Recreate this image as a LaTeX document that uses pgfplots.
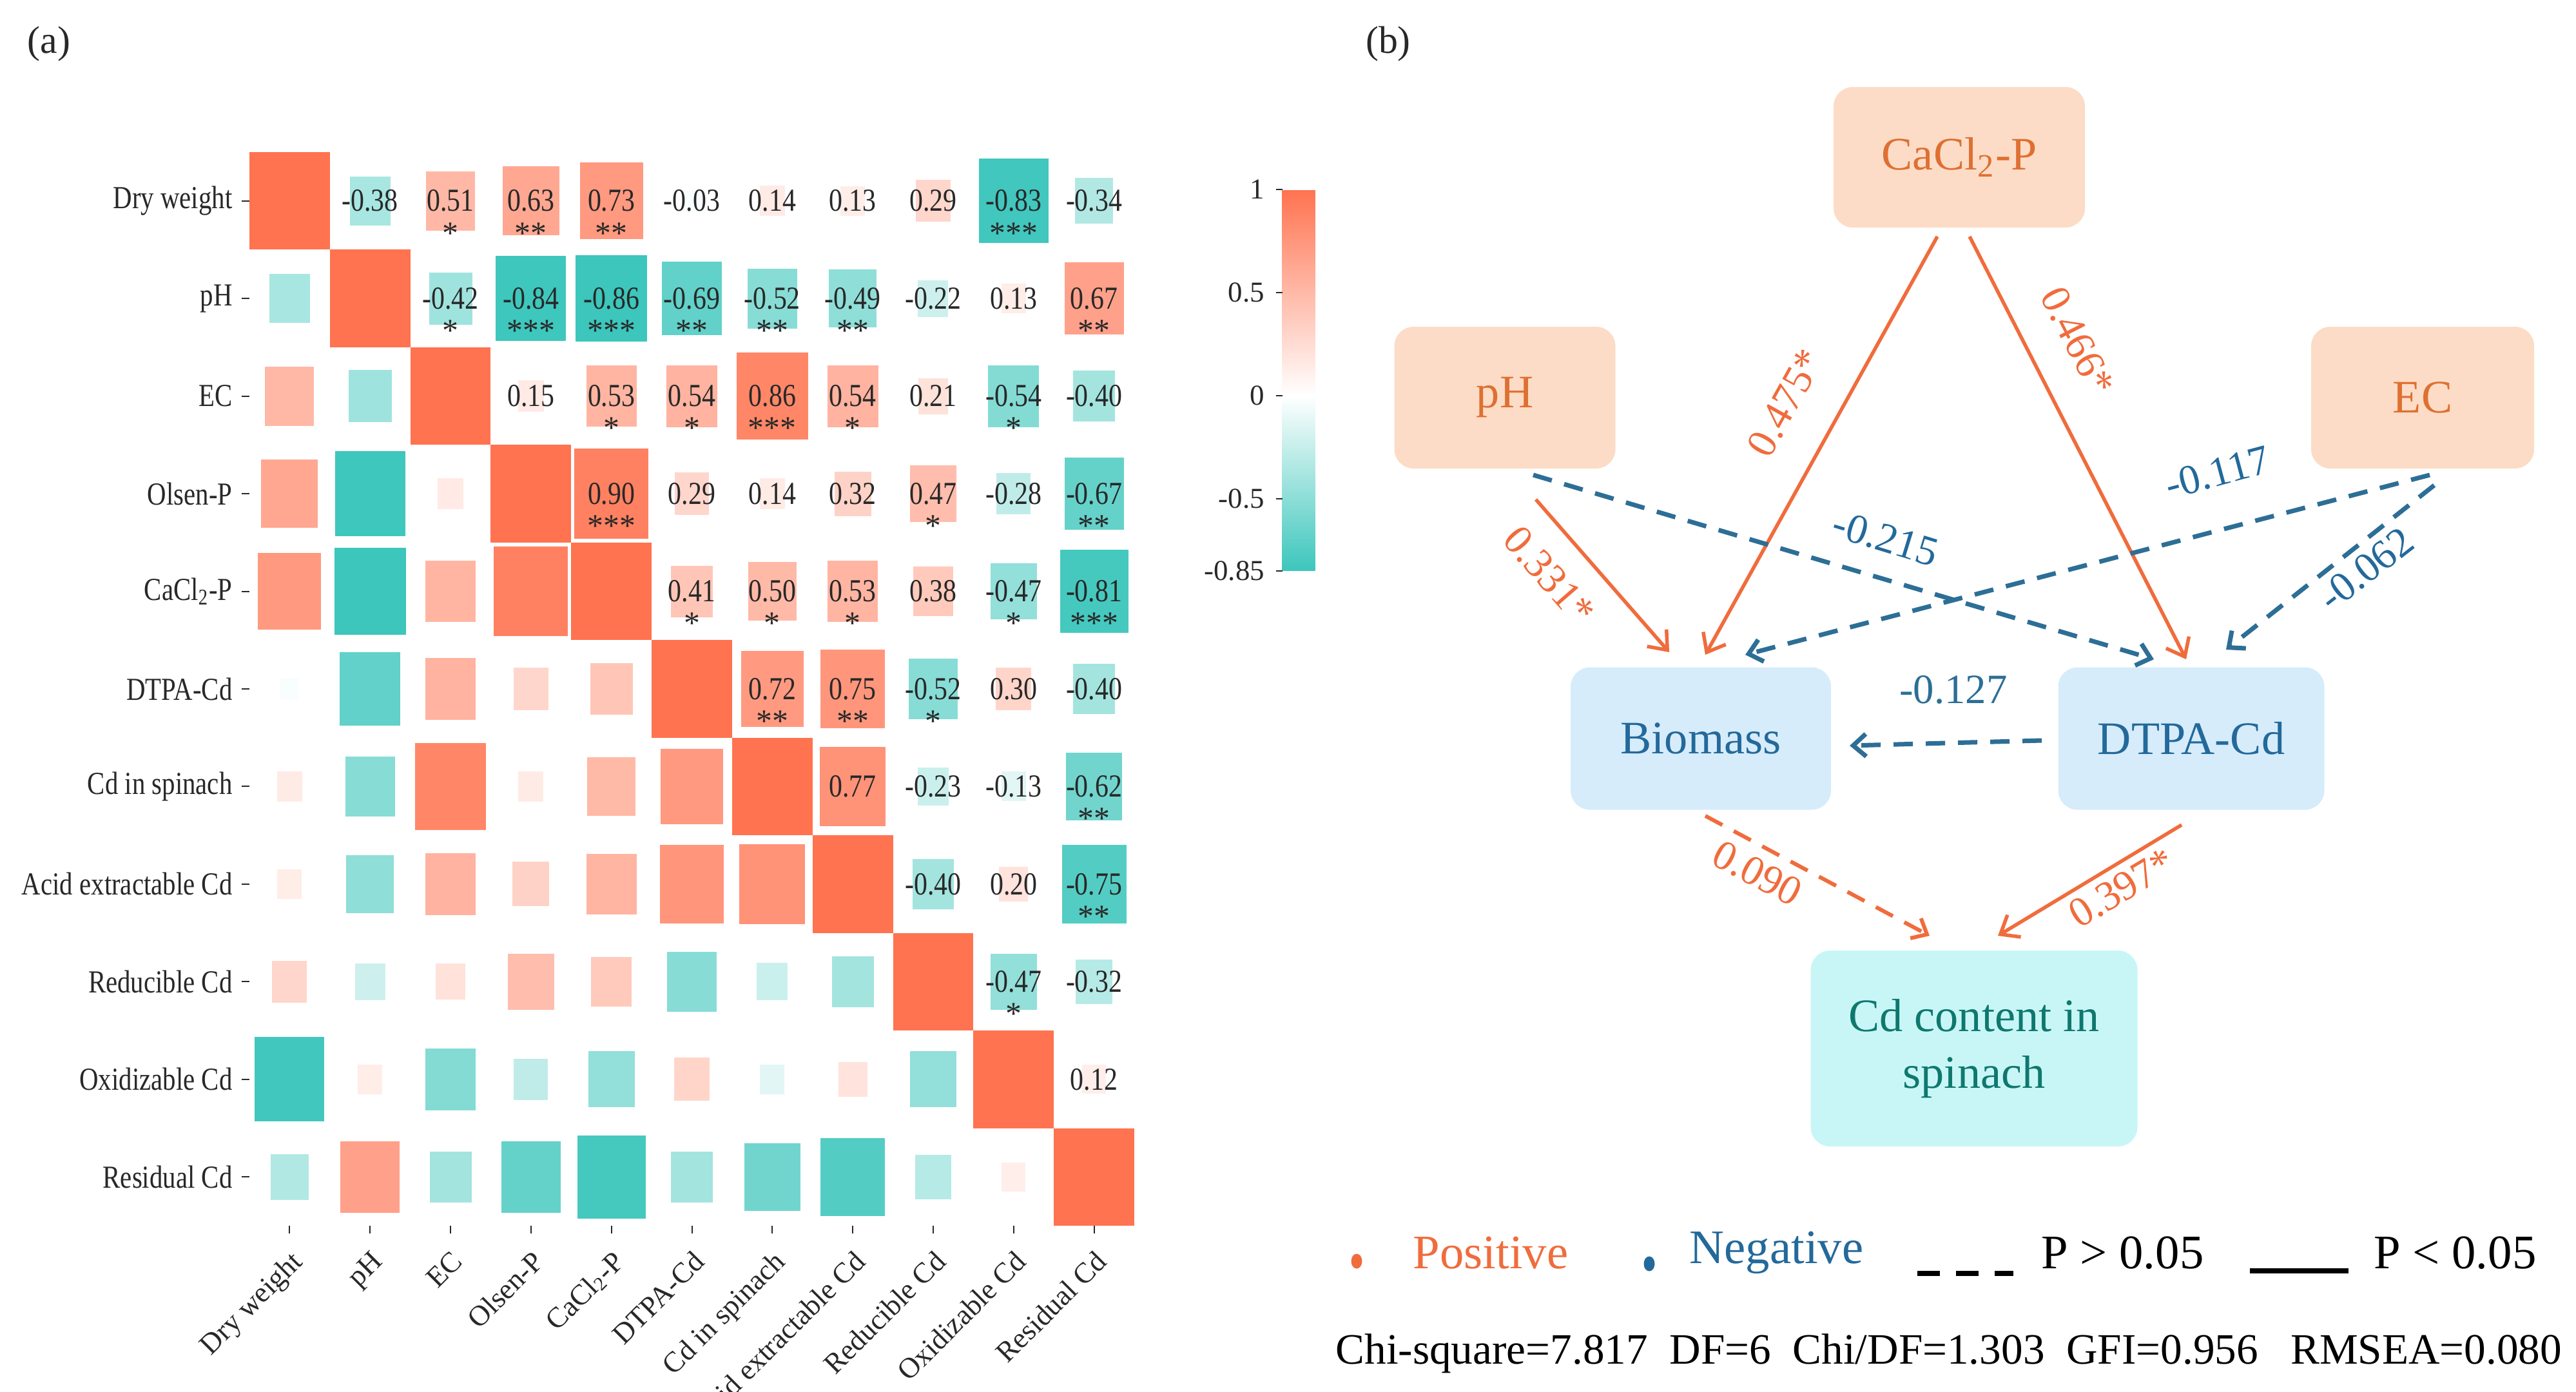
\documentclass[border=0pt]{standalone}
\usepackage{pgfplots}
\pgfplotsset{compat=1.18}
\usepackage{pgfplotstable}
\usepackage{fontspec}
\setmainfont{Liberation Serif}
\usetikzlibrary{arrows.meta}

\definecolor{txt}{RGB}{40,40,40}
\definecolor{posline}{RGB}{240,108,60}
\definecolor{negline}{RGB}{45,110,150}
\definecolor{peach}{RGB}{252,220,198}
\definecolor{lblue}{RGB}{214,236,250}
\definecolor{lcyan}{RGB}{200,246,246}
\definecolor{ptext}{RGB}{222,112,50}
\definecolor{btext}{RGB}{35,105,155}
\definecolor{ctext}{RGB}{15,120,110}

\pgfdeclareplotmark{cell}{%
  \pgfpathrectangle{\pgfpoint{-12.53*\pgfplotmarksize}{-15.21*\pgfplotmarksize}}%
                   {\pgfpoint{25.06*\pgfplotmarksize}{30.42*\pgfplotmarksize}}%
  \pgfusepathqfill}

\pgfplotsset{colormap={corr}{rgb255(0pt)=(60,198,188); rgb255(85pt)=(255,255,255); rgb255(185pt)=(255,115,80)}}

% upper triangle: row i, column j, correlation r
\pgfplotstableread{
i j r
0 1 -0.38
0 2 0.51
0 3 0.63
0 4 0.73
0 5 -0.03
0 6 0.14
0 7 0.13
0 8 0.29
0 9 -0.83
0 10 -0.34
1 2 -0.42
1 3 -0.84
1 4 -0.86
1 5 -0.69
1 6 -0.52
1 7 -0.49
1 8 -0.22
1 9 0.13
1 10 0.67
2 3 0.15
2 4 0.53
2 5 0.54
2 6 0.86
2 7 0.54
2 8 0.21
2 9 -0.54
2 10 -0.40
3 4 0.90
3 5 0.29
3 6 0.14
3 7 0.32
3 8 0.47
3 9 -0.28
3 10 -0.67
4 5 0.41
4 6 0.50
4 7 0.53
4 8 0.38
4 9 -0.47
4 10 -0.81
5 6 0.72
5 7 0.75
5 8 -0.52
5 9 0.30
5 10 -0.40
6 7 0.77
6 8 -0.23
6 9 -0.13
6 10 -0.62
7 8 -0.40
7 9 0.20
7 10 -0.75
8 9 -0.47
8 10 -0.32
9 10 0.12
}\upper

\pgfplotstableread{
i j s
0 2 *
0 3 **
0 4 **
0 9 ***
1 2 *
1 3 ***
1 4 ***
1 5 **
1 6 **
1 7 **
1 10 **
2 4 *
2 5 *
2 6 ***
2 7 *
2 9 *
3 4 ***
3 8 *
3 10 **
4 5 *
4 6 *
4 7 *
4 9 *
4 10 ***
5 6 **
5 7 **
5 8 *
6 10 **
7 10 **
8 9 *
}\stars

\pgfplotstableread{
i r
0 1
1 1
2 1
3 1
4 1
5 1
6 1
7 1
8 1
9 1
10 1
}\diag

\begin{document}
\begin{tikzpicture}
\path[use as bounding box] (0,0) rectangle (799.4bp,432bp);

% ---------------- (a) correlation heatmap ----------------
\begin{axis}[
  at={(77.4bp,384.8bp)}, anchor=north west,
  width=274.6bp, height=333.2bp, scale only axis,
  xmin=-0.5, xmax=10.5, ymin=-0.5, ymax=10.5, y dir=reverse,
  axis line style={draw=none},
  tick pos=left, tick align=outside, major tick length=2.4bp,
  tick style={color=txt, line width=0.4bp},
  xtick={0,...,10}, ytick={0,...,10},
  xticklabels={Dry weight, pH, EC, Olsen-P, CaCl\textsubscript{2}-P, DTPA-Cd, Cd in spinach, Acid extractable Cd, Reducible Cd, Oxidizable Cd, Residual Cd},
  yticklabels={Dry weight, pH, EC, Olsen-P, CaCl\textsubscript{2}-P, DTPA-Cd, Cd in spinach, Acid extractable Cd, Reducible Cd, Oxidizable Cd, Residual Cd},
  yticklabel style={font=\fontsize{10}{12}\selectfont, text=txt, xscale=0.82},
  xticklabel style={font=\fontsize{9}{11}\selectfont, text=txt, rotate=45, anchor=north east},
  clip=false,
  colormap name=corr, point meta min=-0.85, point meta max=1,
  colorbar,
  colorbar style={
    at={(parent axis.north east)}, anchor=north west,
    xshift=37.4bp, yshift=-11.6bp,
    width=10.2bp, height=118.4bp,
    ytick={-0.85,-0.5,0,0.5,1}, yticklabels={-0.85,-0.5,0,0.5,1},
    ytick pos=left, yticklabel pos=left,
    axis line style={draw=none}, tick align=outside, major tick length=2bp,
    tick style={color=txt, line width=0.4bp},
    yticklabel style={font=\fontsize{9}{10}\selectfont, text=txt},
  },
]
\addplot[scatter, only marks, mark=cell, point meta=\thisrow{r},
  visualization depends on={0.2+0.8*abs(\thisrow{r}) \as \sz},
  scatter/@pre marker code/.append style={/tikz/mark size=\sz}]
  table[x=j, y=i] {\upper};
\addplot[scatter, only marks, mark=cell, point meta=\thisrow{r},
  visualization depends on={0.2+0.8*abs(\thisrow{r}) \as \sz},
  scatter/@pre marker code/.append style={/tikz/mark size=\sz}]
  table[x=i, y=j] {\upper};
\addplot[scatter, only marks, mark=cell, mark size=1, point meta=\thisrow{r}]
  table[x=i, y=i] {\diag};
\addplot[draw=none, mark=none, nodes near coords, point meta=explicit symbolic,
  nodes near coords style={anchor=center, font=\fontsize{10}{12}\selectfont, text=txt, xscale=0.84}]
  table[x=j, y=i, meta=r] {\upper};
\addplot[draw=none, mark=none, nodes near coords, point meta=explicit symbolic,
  nodes near coords style={anchor=center, yshift=-10bp, font=\fontsize{10}{12}\selectfont, text=txt}]
  table[x=j, y=i, meta=s] {\stars};
\end{axis}

% ---------------- (b) path diagram (canvas in pixel units) ----------------
\begin{axis}[
  at={(0,0)}, anchor=south west,
  width=799.4bp, height=432bp, scale only axis,
  xmin=0, xmax=3997, ymin=0, ymax=2160, y dir=reverse,
  hide axis, clip=false,
]
\node[font=\fontsize{12}{14}\selectfont, text=txt] at (axis cs:76,68) {(a)};
\node[font=\fontsize{12}{14}\selectfont, text=txt] at (axis cs:2154,68) {(b)};

% boxes
\node[fill=peach, rounded corners=6bp, minimum width=78bp, minimum height=43.6bp, text=ptext, font=\fontsize{14.5}{16}\selectfont] at (axis cs:3040,244) {CaCl\textsubscript{2}-P};
\node[fill=peach, rounded corners=6bp, minimum width=68.6bp, minimum height=44bp, text=ptext, font=\fontsize{14.5}{16}\selectfont] at (axis cs:2335,617) {pH};
\node[fill=peach, rounded corners=6bp, minimum width=69.2bp, minimum height=44bp, text=ptext, font=\fontsize{14.5}{16}\selectfont] at (axis cs:3759,617) {EC};
\node[fill=lblue, rounded corners=6bp, minimum width=80.8bp, minimum height=44.2bp, text=btext, font=\fontsize{14.5}{16}\selectfont] at (axis cs:2639,1146) {Biomass};
\node[fill=lblue, rounded corners=6bp, minimum width=82.6bp, minimum height=44.2bp, text=btext, font=\fontsize{14.5}{16}\selectfont] at (axis cs:3400,1146) {DTPA-Cd};
\node[fill=lcyan, rounded corners=6bp, minimum width=101.4bp, minimum height=60.8bp, text=ctext, font=\fontsize{14.5}{17.6}\selectfont, align=center] at (axis cs:3063,1627) {Cd content in\\spinach};

% arrows: significant (solid) and not significant (dashed)
\addplot[posline, line width=1.1bp, -{Straight Barb[length=5bp,width=8bp]}] coordinates {(3006,367) (2646,1016)};
\addplot[posline, line width=1.1bp, -{Straight Barb[length=5bp,width=8bp]}] coordinates {(3056,367) (3392,1023)};
\addplot[posline, line width=1.1bp, -{Straight Barb[length=5bp,width=8bp]}] coordinates {(2383,775) (2590,1012)};
\addplot[negline, line width=1.4bp, dash pattern=on 6bp off 4bp, -{Straight Barb[length=4bp,width=7bp]}] coordinates {(2379,737) (3342,1023)};
\addplot[negline, line width=1.4bp, dash pattern=on 6bp off 4bp, -{Straight Barb[length=4bp,width=7bp]}] coordinates {(3770,737) (2708,1016)};
\addplot[negline, line width=1.4bp, dash pattern=on 6bp off 4bp, -{Straight Barb[length=4bp,width=7bp]}] coordinates {(3777,753) (3454,1008)};
\addplot[negline, line width=1.4bp, dash pattern=on 6bp off 4bp, -{Straight Barb[length=4bp,width=7bp]}] coordinates {(3168,1149) (2870,1157)};
\addplot[posline, line width=1.2bp, dash pattern=on 6bp off 4bp, -{Straight Barb[length=4bp,width=7bp]}] coordinates {(2646,1266) (2994,1452)};
\addplot[posline, line width=1.1bp, -{Straight Barb[length=5bp,width=8bp]}] coordinates {(3385,1280) (3100,1452)};

% path coefficients
\node[text=posline, rotate=61, font=\fontsize{13}{15}\selectfont] at (axis cs:2770,625) {0.475*};
\node[text=posline, rotate=-63, font=\fontsize{13}{15}\selectfont] at (axis cs:3224,529) {0.466*};
\node[text=posline, rotate=-49, font=\fontsize{13}{15}\selectfont] at (axis cs:2404,893) {0.331*};
\node[text=btext, rotate=-17, font=\fontsize{13}{15}\selectfont] at (axis cs:2926,835) {-0.215};
\node[text=btext, rotate=15, font=\fontsize{13}{15}\selectfont] at (axis cs:3441,733) {-0.117};
\node[text=btext, rotate=38, font=\fontsize{13}{15}\selectfont] at (axis cs:3671,883) {-0.062};
\node[text=negline, font=\fontsize{13}{15}\selectfont] at (axis cs:3031,1070) {-0.127};
\node[text=posline, rotate=-28, font=\fontsize{13}{15}\selectfont] at (axis cs:2727,1355) {0.090};
\node[text=posline, rotate=31, font=\fontsize{13}{15}\selectfont] at (axis cs:3292,1378) {0.397*};

% legend
\addplot[only marks, mark=*, mark size=1.5, mark options={yscale=1.4}, color=posline] coordinates {(2105,1957)};
\addplot[only marks, mark=*, mark size=1.5, mark options={yscale=1.4}, color=btext] coordinates {(2559,1961)};
\node[anchor=west, text=posline, font=\fontsize{15}{17}\selectfont] at (axis cs:2175,1944) {Positive};
\node[anchor=west, text=btext, font=\fontsize{15}{17}\selectfont] at (axis cs:2604,1944) {Negative};
\addplot[black, line width=1.6bp, dash pattern=on 7bp off 5bp] coordinates {(2975,1976) (3124,1976)};
\node[anchor=west, text=black, font=\fontsize{15}{17}\selectfont] at (axis cs:3150,1944) {P > 0.05};
\addplot[black, line width=1.6bp] coordinates {(3491,1972) (3644,1972)};
\node[anchor=west, text=black, font=\fontsize{15}{17}\selectfont] at (axis cs:3666,1944) {P < 0.05};
\node[anchor=west, text=black, font=\fontsize{13.5}{15}\selectfont] at (axis cs:2055,2100) {Chi-square=7.817\ \ DF=6\ \ Chi/DF=1.303\ \ GFI=0.956\ \ \ RMSEA=0.080};
\end{axis}
\end{tikzpicture}
\end{document}
